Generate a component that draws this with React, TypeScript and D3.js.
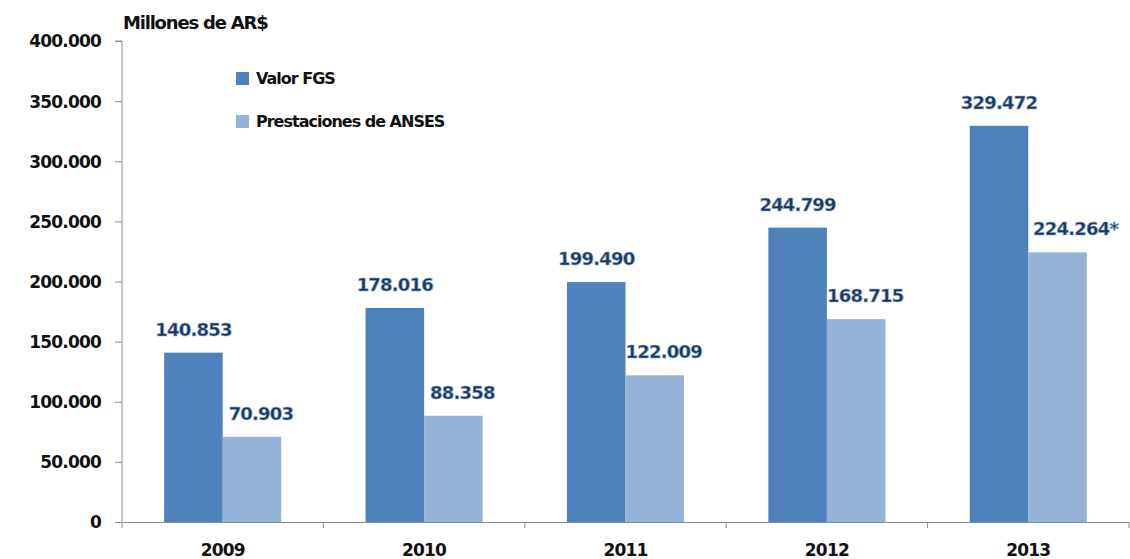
import { useRef, useEffect } from 'react';
import * as d3 from 'd3';

const years = ['2009', '2010', '2011', '2012', '2013'];
const valorFGS = [140853, 178016, 199490, 244799, 329472];
const prestaciones = [70903, 88358, 122009, 168715, 224264];
const valorLabels = ['140.853', '178.016', '199.490', '244.799', '329.472'];
const prestLabels = ['70.903', '88.358', '122.009', '168.715', '224.264*'];
const yTicks = [0, 50000, 100000, 150000, 200000, 250000, 300000, 350000, 400000];
const seriesNames = ['Valor FGS', 'Prestaciones de ANSES'];
const colors = ['#4F81BD', '#95B3D7'];

const FONT = '"DejaVu Sans", Verdana, sans-serif';

export default function App() {
  const svgRef = useRef<SVGSVGElement | null>(null);

  useEffect(() => {
    const svg = d3.select(svgRef.current);
    svg.selectAll('*').remove();

    const left = 122;
    const right = 1129;
    const top = 41;
    const bottom = 522;

    const x0 = d3.scaleBand().domain(years).range([left, right]).padding(0);
    const x1 = d3
      .scaleBand()
      .domain(seriesNames)
      .range([0, x0.bandwidth()])
      .paddingInner(0)
      .paddingOuter(0.72);
    const y = d3.scaleLinear().domain([0, 400000]).range([bottom, top]);

    const fmt = (v: number) => d3.format(',')(v).replace(/,/g, '.');

    // y axis
    const yAxis = svg.append('g').attr('transform', `translate(${left},0)`);
    yAxis
      .call(d3.axisLeft(y).tickValues(yTicks).tickSize(7).tickFormat((d) => fmt(+d)))
      .call((g) => g.selectAll('line').attr('stroke', '#8c8c8c'))
      .call((g) => g.select('.domain').attr('stroke', '#8c8c8c').attr('d', `M-7,${top}H0V${bottom}`))
      .selectAll('text')
      .attr('x', -21)
      .attr('dy', '0.35em')
      .attr('fill', '#111')
      .style('font-family', FONT)
      .style('font-weight', 'bold')
      .style('font-size', '17px')
      .style('letter-spacing', '-0.8px');

    // x axis
    const xAxis = svg.append('g').attr('transform', `translate(0,${bottom})`);
    xAxis
      .call(d3.axisBottom(x0).tickSize(0).tickSizeOuter(0))
      .call((g) => g.select('.domain').attr('stroke', '#8c8c8c'))
      .selectAll('text')
      .attr('y', 34)
      .attr('dy', null)
      .attr('fill', '#111')
      .style('font-family', FONT)
      .style('font-weight', 'bold')
      .style('font-size', '17px')
      .style('letter-spacing', '-0.8px');
    xAxis
      .selectAll('line.sep')
      .data(d3.range(years.length + 1))
      .enter()
      .append('line')
      .attr('class', 'sep')
      .attr('x1', (i) => left + i * x0.step())
      .attr('x2', (i) => left + i * x0.step())
      .attr('y1', 0)
      .attr('y2', 6)
      .attr('stroke', '#8c8c8c');

    const series = [valorFGS, prestaciones];
    const labels = [valorLabels, prestLabels];

    series.forEach((vals, s) => {
      const g = svg.append('g');
      g.selectAll('rect')
        .data(vals)
        .enter()
        .append('rect')
        .attr('x', (_, i) => (x0(years[i]) as number) + (x1(seriesNames[s]) as number))
        .attr('y', (d) => y(d))
        .attr('width', x1.bandwidth())
        .attr('height', (d) => bottom - y(d))
        .attr('fill', colors[s]);

      g.selectAll('text')
        .data(vals)
        .enter()
        .append('text')
        .attr(
          'x',
          (_, i) =>
            (x0(years[i]) as number) +
            (x1(seriesNames[s]) as number) +
            x1.bandwidth() / 2 +
            (s === 1 ? (i === 4 ? 18 : 9) : 0)
        )
        .attr('y', (d) => y(d) - 17)
        .attr('text-anchor', 'middle')
        .attr('fill', '#17375E')
        .attr('stroke', '#8EA9C8')
        .attr('stroke-width', 0.6)
        .style('font-family', FONT)
        .style('font-weight', 'bold')
        .style('font-size', '18px')
        .style('letter-spacing', '-0.8px')
        .text((_, i) => labels[s][i]);
    });

    // title
    svg
      .append('text')
      .attr('x', 123)
      .attr('y', 29)
      .attr('fill', '#111')
      .style('font-family', FONT)
      .style('font-weight', 'bold')
      .style('font-size', '18px')
      .style('letter-spacing', '-1.2px')
      .text('Millones de AR$');

    // legend
    const legend = svg.append('g');
    seriesNames.forEach((name, i) => {
      const ly = 72 + i * 43;
      legend
        .append('rect')
        .attr('x', 236)
        .attr('y', ly)
        .attr('width', 13)
        .attr('height', 13)
        .attr('fill', colors[i]);
      legend
        .append('text')
        .attr('x', 256)
        .attr('y', ly + 12)
        .attr('fill', '#111')
        .style('font-family', FONT)
        .style('font-weight', 'bold')
        .style('font-size', '16px')
        .style('letter-spacing', '-1px')
        .text(name);
    });
  }, []);

  return (
    <svg
      ref={svgRef}
      width={1130}
      height={559}
      style={{ position: 'absolute', left: 0, top: 0, background: '#fff' }}
    />
  );
}
